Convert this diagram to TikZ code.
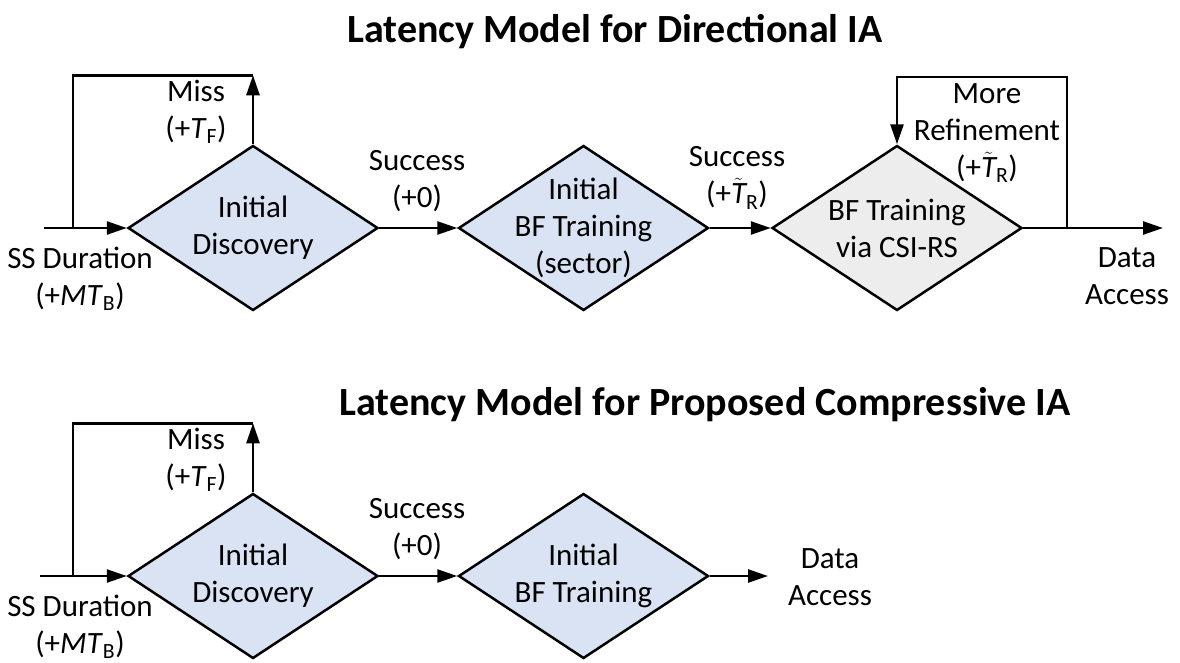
\documentclass[tikz,border=0pt]{standalone}
\usepackage{fontspec}
\setmainfont{Carlito}
\usepackage{xcolor}
\usetikzlibrary{positioning,shapes.geometric,arrows.meta}
\definecolor{iablue}{HTML}{DAE3F3}
\definecolor{csigray}{HTML}{EDEDED}
\tikzstyle{decision} = [diamond, draw, fill=iablue, inner sep=0pt, minimum width=250pt, minimum height=165pt]
\tikzstyle{lbl} = [align=center, inner sep=0pt]
\tikzstyle{title} = [inner sep=0pt, font=\fontsize{40}{46}\selectfont\bfseries]
\newcommand{\Ttil}{$\tilde{\textit{T}}$}
\begin{document}
\begin{tikzpicture}[x=1pt, y=-1pt, line width=2.5pt, font=\fontsize{31}{37}\selectfont,
		>={Triangle[length=20pt,width=13pt]}]
		\useasboundingbox (0,0) rectangle (1180,662);

		% directional IA
		\node [title] (title1) at (615,32) {Latency Model for Directional IA};
		\node [decision] (disc) at (253,228) {};
		\node [decision, right=78pt of disc] (bfsec) {};
		\node [decision, right=61pt of bfsec, fill=csigray] (csi) {};
		\node [lbl] (disctxt) at (disc) {Initial\\Discovery};
		\node [lbl] (bfsectxt) at (bfsec) {Initial\\BF Training\\(sector)};
		\node [lbl] (csitxt) at (csi) {BF Training\\via CSI-RS};

		\coordinate (ssin) at (44,228);
		\coordinate (missjoin) at (73,228);
		\coordinate [above=69pt of disc.north] (misstop);
		\coordinate (refjoin) at (1067,228);
		\coordinate (reftop) at (1067,77);
		\coordinate (dataend) at (1163,228);

		\draw [->] (ssin) -- (disc.west);
		\draw [->] (disc.north) -- (misstop);
		\draw (misstop) -| (missjoin);
		\draw [->] (disc.east) -- (bfsec.west);
		\draw [->] (bfsec.east) -- (csi.west);
		\draw [->] (csi.east) -- (dataend);
		\draw [->] (refjoin) -- (reftop) -| (csi.north);

		\node [lbl] (miss) at (196,112) {Miss\\(+\textit{T}\textsubscript{F})};
		\node [lbl] (ssdur) at (80,279) {SS Duration\\(+\textit{MT}\textsubscript{B})};
		\node [lbl] (succa) at (417,181) {Success\\(+0)};
		\node [lbl] (succb) at (737,178) {Success\\(+\Ttil\textsubscript{R})};
		\node [lbl] (more) at (987,133) {More\\Refinement\\(+\Ttil\textsubscript{R})};
		\node [lbl] (data) at (1127,276) {Data\\Access};

		% compressive IA
		\node [title] (title2) at (705,405) {Latency Model for Proposed Compressive IA};
		\node [decision] (disc2) at (253,576) {};
		\node [decision, right=78pt of disc2] (bf2) {};
		\node [lbl] (disc2txt) at (disc2) {Initial\\Discovery};
		\node [lbl] (bf2txt) at (bf2) {Initial\\BF Training};

		\coordinate (ssin2) at (40,576);
		\coordinate (missjoin2) at (73,576);
		\coordinate [above=69pt of disc2.north] (misstop2);
		\coordinate (dataend2) at (768,576);

		\draw [->] (ssin2) -- (disc2.west);
		\draw [->] (disc2.north) -- (misstop2);
		\draw (misstop2) -| (missjoin2);
		\draw [->] (disc2.east) -- (bf2.west);
		\draw [->] (bf2.east) -- (dataend2);

		\node [lbl] (miss2) at (196,460) {Miss\\(+\textit{T}\textsubscript{F})};
		\node [lbl] (ssdur2) at (80,627) {SS Duration\\(+\textit{MT}\textsubscript{B})};
		\node [lbl] (succ2) at (417,529) {Success\\(+0)};
		\node [lbl] (data2) at (830,577) {Data\\Access};
	\end{tikzpicture}
\end{document}
